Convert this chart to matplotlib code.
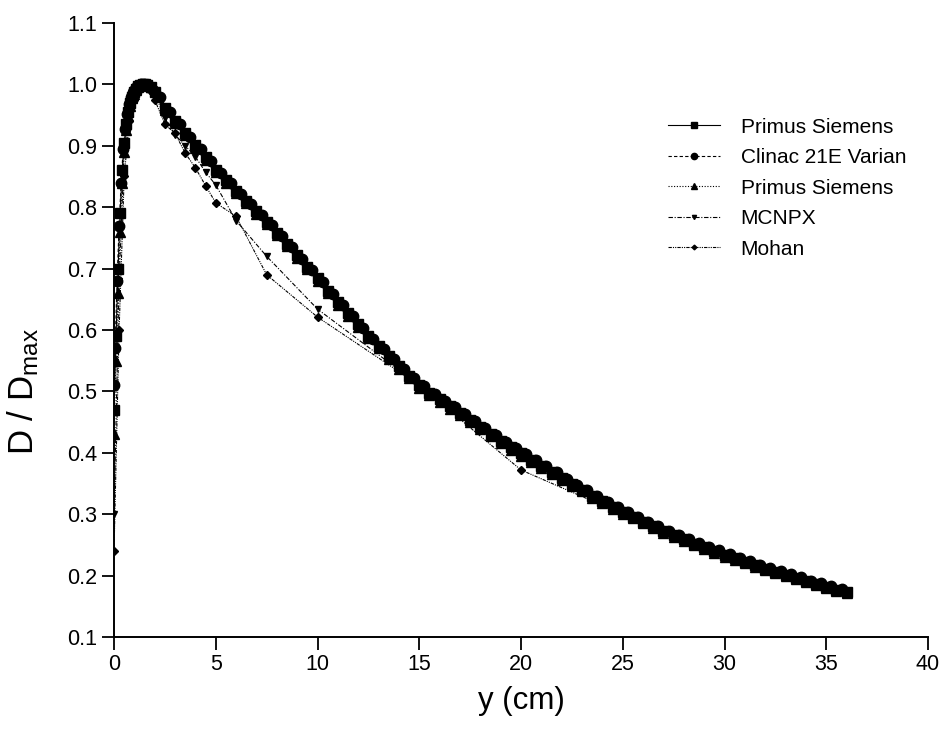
import matplotlib
matplotlib.use("Agg")
import matplotlib.pyplot as plt

plt.rcParams["font.family"] = ["Liberation Sans", "DejaVu Sans"]
plt.rcParams["mathtext.default"] = "regular"

# depth (cm) for the Primus Siemens curves
depth_a = [0.0, 0.1, 0.2, 0.3, 0.4, 0.5, 0.6, 0.7, 0.8, 0.9, 1.0, 1.1, 1.2, 1.3, 1.4, 1.5, 1.6, 1.8,
           2.0, 2.5, 3.0, 3.5, 4.0, 4.5, 5.0, 5.5, 6.0, 6.5,
           7.0, 7.5, 8.0, 8.5, 9.0, 9.5, 10.0, 10.5, 11.0, 11.5,
           12.0, 12.5, 13.0, 13.5, 14.0, 14.5, 15.0, 15.5, 16.0, 16.5,
           17.0, 17.5, 18.0, 18.5, 19.0, 19.5, 20.0, 20.5, 21.0, 21.5,
           22.0, 22.5, 23.0, 23.5, 24.0, 24.5, 25.0, 25.5, 26.0, 26.5,
           27.0, 27.5, 28.0, 28.5, 29.0, 29.5, 30.0, 30.5, 31.0, 31.5,
           32.0, 32.5, 33.0, 33.5, 34.0, 34.5, 35.0, 35.5, 36.0]

primus_a = [0.47, 0.59, 0.70, 0.79, 0.86, 0.905, 0.935, 0.955, 0.970, 0.980, 0.988, 0.993, 0.997, 0.999, 1.000, 1.000, 0.999, 0.995,
            0.988, 0.962, 0.941, 0.921, 0.901, 0.881, 0.861, 0.844, 0.827, 0.810,
            0.793, 0.776, 0.758, 0.740, 0.722, 0.703, 0.684, 0.664, 0.645, 0.627,
            0.609, 0.591, 0.574, 0.557, 0.541, 0.525, 0.510, 0.498, 0.487, 0.476,
            0.465, 0.454, 0.442, 0.431, 0.420, 0.409, 0.399, 0.389, 0.379, 0.369,
            0.359, 0.349, 0.340, 0.330, 0.321, 0.312, 0.304, 0.296, 0.288, 0.281,
            0.273, 0.266, 0.259, 0.252, 0.246, 0.240, 0.234, 0.228, 0.222, 0.217,
            0.211, 0.206, 0.201, 0.196, 0.191, 0.186, 0.182, 0.177, 0.173]

primus_b = [0.43, 0.55, 0.66, 0.76, 0.84, 0.89, 0.925, 0.948, 0.965, 0.977, 0.985, 0.991, 0.995, 0.998, 0.999, 1.000, 0.999, 0.996,
            0.990, 0.958, 0.937, 0.917, 0.897, 0.877, 0.857, 0.840, 0.823, 0.806,
            0.789, 0.772, 0.754, 0.736, 0.718, 0.699, 0.680, 0.660, 0.641, 0.623,
            0.605, 0.587, 0.570, 0.553, 0.537, 0.521, 0.506, 0.494, 0.483, 0.472,
            0.461, 0.450, 0.438, 0.427, 0.416, 0.405, 0.395, 0.385, 0.375, 0.365,
            0.355, 0.346, 0.337, 0.327, 0.318, 0.309, 0.301, 0.293, 0.285, 0.278,
            0.270, 0.263, 0.256, 0.250, 0.243, 0.237, 0.231, 0.225, 0.220, 0.214,
            0.209, 0.204, 0.199, 0.194, 0.189, 0.184, 0.180, 0.175, 0.171]

# depth (cm) for the Clinac 21E curve
depth_c = [0.0, 0.05, 0.15, 0.25, 0.35, 0.45, 0.55, 0.65, 0.75, 0.85, 0.95, 1.05, 1.15, 1.25, 1.35, 1.45, 1.55, 1.7, 1.9,
           2.25, 2.75, 3.25, 3.75, 4.25, 4.75, 5.25, 5.75, 6.25, 6.75,
           7.25, 7.75, 8.25, 8.75, 9.25, 9.75, 10.25, 10.75, 11.25, 11.75,
           12.25, 12.75, 13.25, 13.75, 14.25, 14.75, 15.25, 15.75, 16.25, 16.75,
           17.25, 17.75, 18.25, 18.75, 19.25, 19.75, 20.25, 20.75, 21.25, 21.75,
           22.25, 22.75, 23.25, 23.75, 24.25, 24.75, 25.25, 25.75, 26.25, 26.75,
           27.25, 27.75, 28.25, 28.75, 29.25, 29.75, 30.25, 30.75, 31.25, 31.75,
           32.25, 32.75, 33.25, 33.75, 34.25, 34.75, 35.25, 35.75]

clinac = [0.51, 0.57, 0.68, 0.77, 0.84, 0.895, 0.928, 0.952, 0.968, 0.979, 0.987, 0.993, 0.997, 0.999, 1.000, 1.000, 0.999, 0.997, 0.991,
          0.979, 0.955, 0.935, 0.915, 0.895, 0.875, 0.856, 0.839, 0.822, 0.805,
          0.788, 0.771, 0.753, 0.735, 0.716, 0.697, 0.678, 0.658, 0.640, 0.622,
          0.604, 0.586, 0.569, 0.553, 0.537, 0.521, 0.508, 0.496, 0.485, 0.474,
          0.463, 0.452, 0.440, 0.429, 0.418, 0.408, 0.398, 0.388, 0.378, 0.368,
          0.358, 0.348, 0.339, 0.329, 0.320, 0.312, 0.304, 0.296, 0.288, 0.281,
          0.273, 0.266, 0.259, 0.253, 0.247, 0.241, 0.235, 0.229, 0.223, 0.218,
          0.212, 0.207, 0.202, 0.197, 0.192, 0.188, 0.183, 0.178]

# calculated curves
depth_calc = [0.0, 0.25, 0.5, 0.75, 1.0, 1.5, 2.0, 2.5, 3.0, 3.5, 4.0, 4.5, 5.0, 6.0, 7.5, 10.0, 15.0, 20.0, 25.0, 30.0]
mcnpx = [0.30, 0.68, 0.89, 0.955, 0.98, 1.0, 0.985, 0.945, 0.918, 0.900, 0.882, 0.857, 0.836, 0.778, 0.72, 0.634, 0.51, 0.40, 0.305, 0.235]
mohan = [0.24, 0.60, 0.85, 0.94, 0.975, 0.995, 0.975, 0.935, 0.92, 0.888, 0.864, 0.835, 0.807, 0.785, 0.69, 0.621, 0.51, 0.372, 0.30, 0.235]

fig = plt.figure(figsize=(9.47, 7.36), dpi=100)
ax = fig.add_axes([0.1204, 0.1345, 0.8596, 0.8343])

lw = 0.8
ax.plot(depth_a, primus_a, color="black", lw=lw, ls="-", marker="s", ms=7, label="Primus Siemens")
ax.plot(depth_c, clinac, color="black", lw=lw, ls=(0, (3, 2)), marker="o", ms=7.5, label="Clinac 21E Varian")
ax.plot(depth_a, primus_b, color="black", lw=lw, ls=(0, (1, 1.5)), marker="^", ms=7.5, label="Primus Siemens")
ax.plot(depth_calc, mcnpx, color="black", lw=lw, ls=(0, (4, 1.5, 1, 1.5)), marker="v", ms=5, label="MCNPX")
ax.plot(depth_calc, mohan, color="black", lw=lw, ls=(0, (3, 1, 1, 1, 1, 1)), marker="D", ms=4, label="Mohan")

ax.set_xlim(0, 40)
ax.set_ylim(0.1, 1.1)
ax.set_xticks([0, 5, 10, 15, 20, 25, 30, 35, 40])
ax.set_yticks([0.1, 0.2, 0.3, 0.4, 0.5, 0.6, 0.7, 0.8, 0.9, 1.0, 1.1])
ax.set_yticklabels(["0.1", "0.2", "0.3", "0.4", "0.5", "0.6", "0.7", "0.8", "0.9", "1.0", "1.1"])

for side in ["top", "right"]:
    ax.spines[side].set_visible(False)
for side in ["left", "bottom"]:
    ax.spines[side].set_linewidth(1.4)
ax.tick_params(direction="out", length=9, width=1.3, labelsize=15.5, pad=3)

ax.set_xlabel("y (cm)", fontsize=22.5, labelpad=8)
ax.set_ylabel("D / D$_{max}$", fontsize=25)
ax.yaxis.set_label_coords(-0.09, 0.40)

leg = fig.legend(loc="upper left", bbox_to_anchor=(0.705, 0.84), frameon=False,
                 fontsize=15, handlelength=2.5, handletextpad=1.0, labelspacing=0.55,
                 borderpad=0, borderaxespad=0, markerscale=0.6)

fig.savefig("out.png", dpi=100)
